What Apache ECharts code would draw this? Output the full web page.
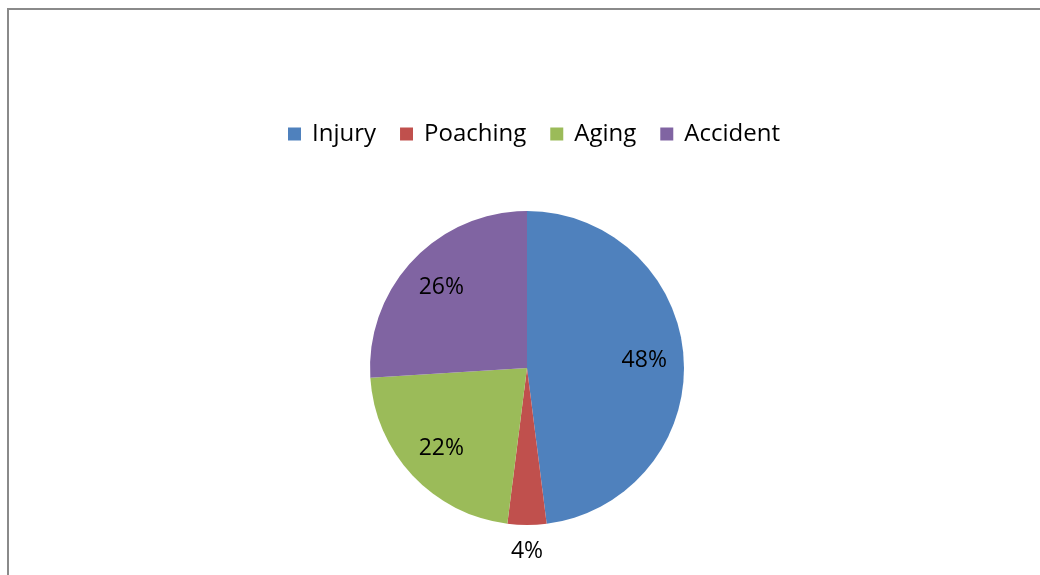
<!DOCTYPE html>
<html>
<head>
<meta charset="utf-8">
<script src="https://cdn.jsdelivr.net/npm/echarts@6/dist/echarts.min.js"></script>
<style>
html,body{margin:0;padding:0;background:#fff;overflow:hidden;}
#chart{width:1040px;height:575px;}
</style>
</head>
<body>
<div id="chart"></div>
<script>
const categories = ['Injury', 'Poaching', 'Aging', 'Accident'];
const values = [48, 4, 22, 26];
const colors = ['#4F81BD', '#C0504D', '#9BBB59', '#8064A2'];

const FONT = 'Open Sans';
const center = [527, 368];
const R = 157;

const data = categories.map((c, i) => ({ name: c, value: values[i], itemStyle: { color: colors[i] } }));

const chart = echarts.init(document.getElementById('chart'), null, { renderer: 'canvas' });
chart.setOption({
  animation: false,
  backgroundColor: '#fff',
  graphic: [{
    type: 'rect',
    shape: { x: 8, y: 9, width: 1200, height: 800 },
    style: { fill: 'none', stroke: '#8a8a8a', lineWidth: 2 },
    silent: true
  }],
  legend: {
    data: categories,
    left: 283,
    top: 117,
    itemWidth: 13,
    itemHeight: 13,
    itemGap: 24,
    icon: 'rect',
    textStyle: { fontFamily: FONT, fontSize: 24, color: '#000', padding: [0, 0, 0, 6] }
  },
  series: [
    {
      type: 'pie',
      center: center,
      radius: R,
      startAngle: 90,
      clockwise: true,
      silent: true,
      label: { show: false },
      labelLine: { show: false },
      data: data
    },
    {
      type: 'pie',
      center: center,
      radius: [72, R],
      startAngle: 90,
      clockwise: true,
      silent: true,
      itemStyle: { color: 'transparent' },
      label: {
        show: true, position: 'inside', fontFamily: FONT, fontSize: 23, color: '#000',
        formatter: p => p.dataIndex === 1 ? '' : p.value + '%'
      },
      labelLine: { show: false },
      data: categories.map((c, i) => ({ name: c, value: values[i] }))
    },
    {
      type: 'pie',
      center: center,
      radius: [162, 198],
      startAngle: 90,
      clockwise: true,
      silent: true,
      itemStyle: { color: 'transparent' },
      label: {
        show: true, position: 'inside', fontFamily: FONT, fontSize: 23, color: '#000',
        formatter: p => p.dataIndex === 1 ? p.value + '%' : ''
      },
      labelLine: { show: false },
      data: categories.map((c, i) => ({ name: c, value: values[i] }))
    }
  ]
});
</script>
</body>
</html>
